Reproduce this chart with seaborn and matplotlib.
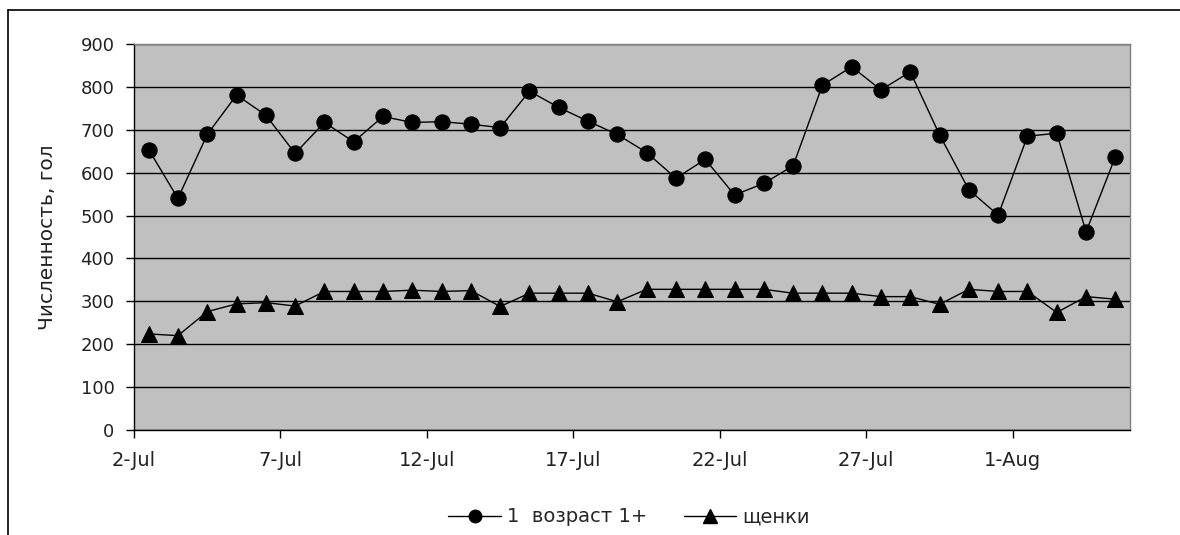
import matplotlib
matplotlib.use("Agg")
import matplotlib.pyplot as plt
from matplotlib.lines import Line2D
import pandas as pd
import seaborn as sns

# Daily counts, 2 July - 4 August
start_date = "2007-07-02"
n_days = 34
adults = [654, 540, 689, 781, 734, 645, 717, 672, 731, 717, 719,
          713, 705, 790, 752, 720, 689, 647, 587, 631, 548, 575, 616,
          804, 847, 793, 835, 688, 560, 501, 685, 692, 462, 637]
pups = [224, 220, 276, 294, 297, 289, 323, 323, 323, 326, 323,
        325, 288, 319, 319, 319, 299, 328, 328, 328, 328, 328, 319,
        319, 319, 311, 311, 293, 328, 323, 323, 274, 311, 305]
series_names = ["1  возраст 1+", "щенки"]
y_label = "Численность, гол"
y_ticks = [0, 100, 200, 300, 400, 500, 600, 700, 800, 900]

dates = pd.date_range(start_date, periods=n_days, freq="D")
# each point sits in the middle of its day cell
df = pd.DataFrame({"date": dates + pd.Timedelta(hours=12),
                   "adults": adults, "pups": pups})

sns.set_style("white", {"axes.facecolor": "#C0C0C0"})
plt.rcParams["font.family"] = ["DejaVu Sans"]
plt.rcParams["font.size"] = 13

fig = plt.figure(figsize=(11.8, 5.35), dpi=100)
ax = fig.add_axes([134 / 1180, 1 - 430 / 535, 996 / 1180, 386 / 535])

sns.lineplot(data=df, x="date", y="adults", ax=ax, color="black", lw=1,
             marker="o", markersize=11, markeredgecolor="black",
             label=series_names[0], legend=False)
sns.lineplot(data=df, x="date", y="pups", ax=ax, color="black", lw=1,
             marker="^", markersize=12, markeredgecolor="black",
             label=series_names[1], legend=False)

ax.set_xlim(dates[0], dates[-1] + pd.Timedelta(days=1))
ax.set_ylim(0, 900)
ax.set_yticks(y_ticks)
ax.yaxis.grid(True, color="black", lw=1)
ax.set_axisbelow(True)

tick_dates = [d for d in dates if (d - dates[0]).days % 5 == 0]
ax.set_xticks(tick_dates)
ax.set_xticklabels([f"{d.day}-{d.strftime('%b')}" for d in tick_dates],
                   fontsize=14)

ax.tick_params(axis="both", direction="out", length=6, width=1,
               color="black", labelcolor="#222222",
               bottom=True, left=True)
ax.tick_params(axis="y", pad=8, labelsize=13)
ax.tick_params(axis="x", pad=9)
ax.set_xlabel("")
ax.set_ylabel(y_label, fontsize=14.5, color="#222222")
ax.yaxis.set_label_coords(-77 / 996, 0.5)

for side in ("left", "bottom"):
    ax.spines[side].set_color("black")
    ax.spines[side].set_linewidth(1)
for side in ("top", "right"):
    ax.spines[side].set_color("#808080")
    ax.spines[side].set_linewidth(1)

handles = [Line2D([], [], color="black", lw=1, marker="o", markersize=9),
           Line2D([], [], color="black", lw=1, marker="^", markersize=10)]
fig.legend(handles, series_names, loc="center", ncol=2, fontsize=14,
           bbox_to_anchor=(629 / 1180, 1 - 517 / 535), frameon=False,
           handlelength=2.7, columnspacing=1.9, handletextpad=0.3)

# outer chart border
fig.add_artist(Line2D([8 / 1180, 8 / 1180], [1 - 10 / 535, 0],
                      transform=fig.transFigure, color="black", lw=1.2))
fig.add_artist(Line2D([8 / 1180, 1], [1 - 10 / 535, 1 - 10 / 535],
                      transform=fig.transFigure, color="black", lw=1.2))

fig.savefig("out.png", dpi=100, facecolor="white")
